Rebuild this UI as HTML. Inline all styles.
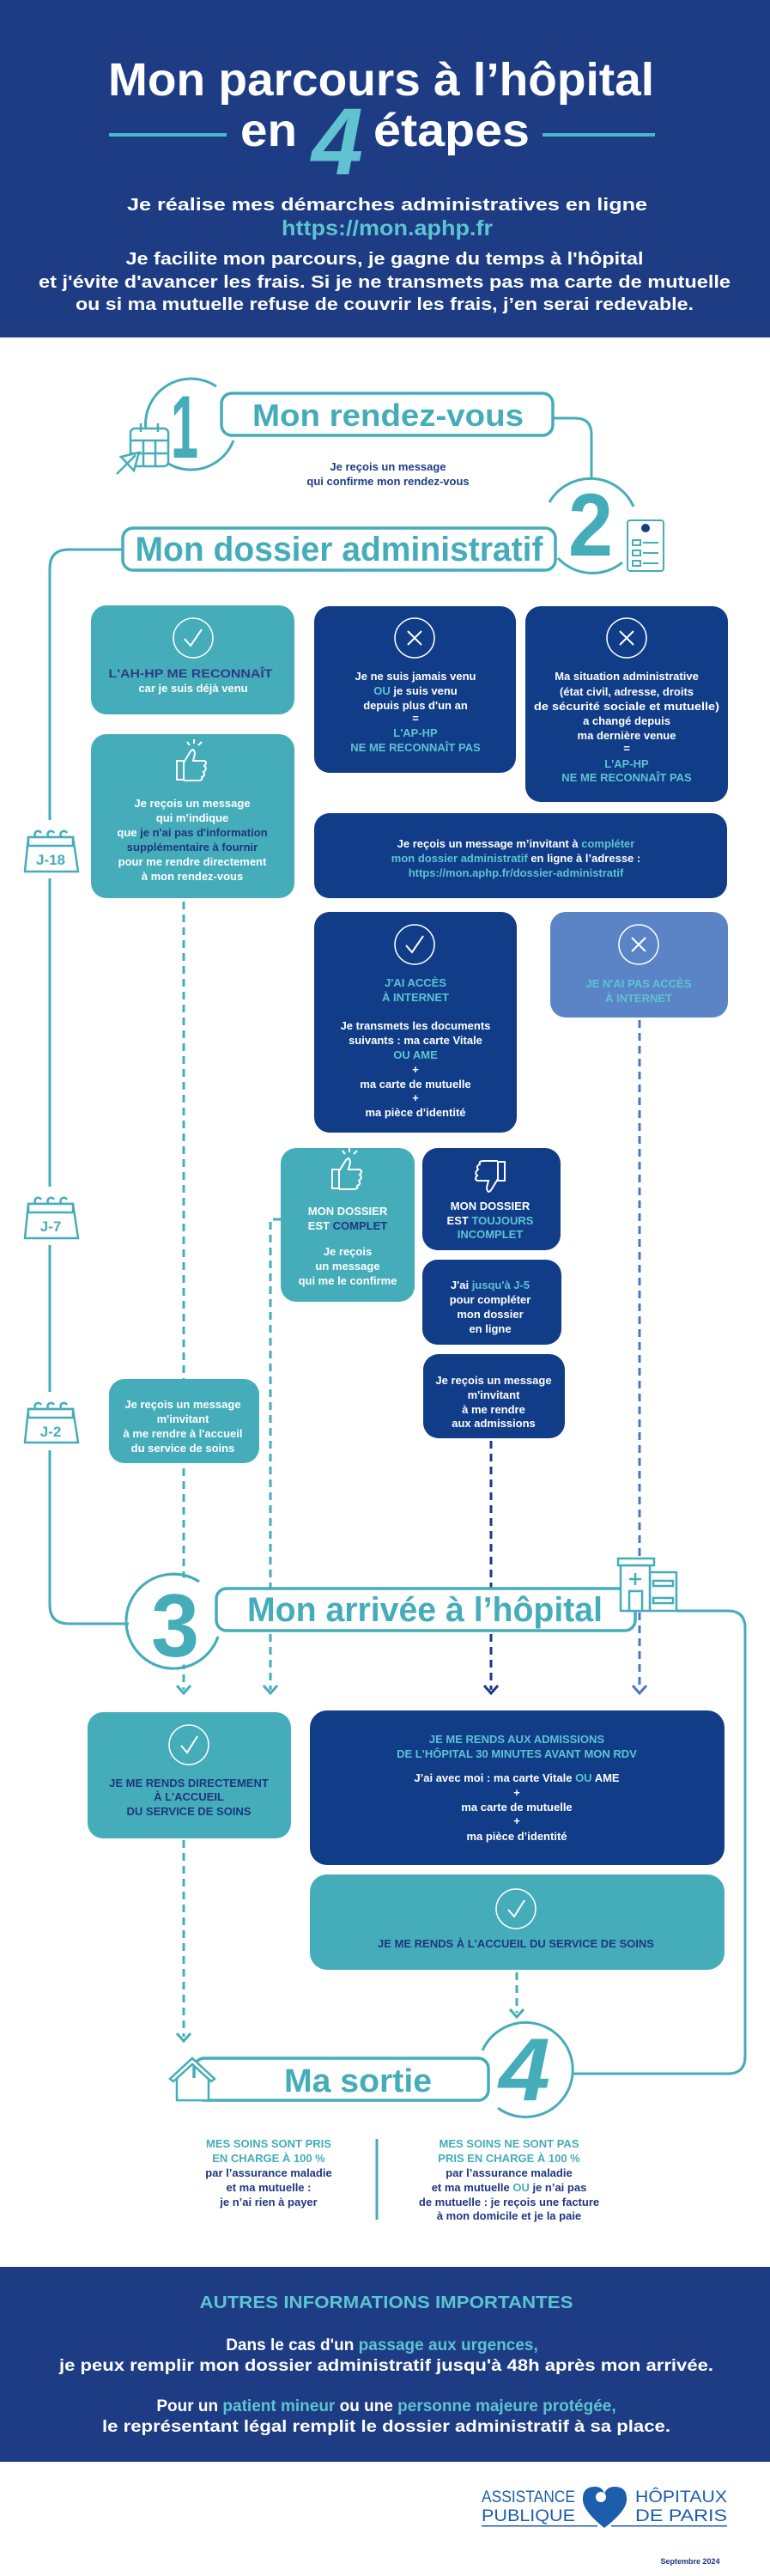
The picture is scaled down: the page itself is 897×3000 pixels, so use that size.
<!DOCTYPE html>
<html><head><meta charset="utf-8"><style>
html,body{margin:0;padding:0;background:#fff}
svg{display:block}
text{font-family:"Liberation Sans",sans-serif;font-weight:bold}
.w{fill:#fff}.t{fill:#5cc4d1}.n{fill:#2e3a85}.tl{fill:#45adb9}
.s13{font-size:13px}
</style></head><body>
<svg width="897" height="3000" viewBox="0 0 897 3000" xmlns="http://www.w3.org/2000/svg">
<rect x="0" y="0" width="897" height="393" fill="#1e3c84"/>
<text x="444" y="111" text-anchor="middle" font-size="54" class="w" textLength="636" lengthAdjust="spacingAndGlyphs">Mon parcours à l’hôpital</text>
<line x1="127" y1="157" x2="264" y2="157" stroke="#45b9c6" stroke-width="4"/>
<line x1="632" y1="157" x2="763" y2="157" stroke="#45b9c6" stroke-width="4"/>
<text x="280" y="170" font-size="54" class="w" textLength="66" lengthAdjust="spacingAndGlyphs">en</text>
<text x="435" y="170" font-size="54" class="w" textLength="182" lengthAdjust="spacingAndGlyphs">étapes</text>
<text x="393" y="203" text-anchor="middle" font-size="110" fill="#62c3d0" font-style="italic" textLength="60" lengthAdjust="spacingAndGlyphs">4</text>
<text x="451" y="245" text-anchor="middle" font-size="20" class="w" textLength="606" lengthAdjust="spacingAndGlyphs">Je réalise mes démarches administratives en ligne</text>
<text x="451" y="274" text-anchor="middle" font-size="25" fill="#5cc4d1" textLength="246" lengthAdjust="spacingAndGlyphs">https://mon.aphp.fr</text>
<text x="448" y="308" text-anchor="middle" font-size="20" class="w" textLength="603" lengthAdjust="spacingAndGlyphs">Je facilite mon parcours, je gagne du temps à l'hôpital</text>
<text x="448" y="335" text-anchor="middle" font-size="20" class="w" textLength="806" lengthAdjust="spacingAndGlyphs">et j'évite d'avancer les frais. Si je ne transmets pas ma carte de mutuelle</text>
<text x="448" y="361" text-anchor="middle" font-size="20" class="w" textLength="720" lengthAdjust="spacingAndGlyphs">ou si ma mutuelle refuse de couvrir les frais, j’en serai redevable.</text>

<g fill="none" stroke="#45adb9" stroke-width="3">
<!-- main left line -->
<path d="M143 640 H80 Q58 640 58 662 V1869 Q58 1891 80 1891 H150"/>
<!-- right connector to 2 -->
<path d="M644 487 H670 Q689 487 689 506 V558"/>
<!-- right connector 3 to 4 -->
<path d="M788 1876 H848 Q868 1876 868 1896 V2395 Q868 2415 848 2415 H666"/>
<!-- circles -->
<path d="M252 450 A53 53 0 1 0 272 513"/>
<path d="M640 585 A55 55 0 0 1 738 590"/>
<path d="M650 650 A55 55 0 0 0 725 655"/>
<path d="M232 1842 A55 55 0 1 0 254 1906"/>
<path d="M562 2388 A55 55 0 1 1 580 2455"/>
</g>
<!-- dashed lines -->
<g fill="none" stroke-width="3" stroke-dasharray="9 6">
<path d="M214 1050 V1968" stroke="#45adb9"/>
<path d="M327 1420 H315 V1968" stroke="#45adb9"/>
<path d="M572 1678 V1968" stroke="#1a3a8a"/>
<path d="M745 1188 V1968" stroke="#4a78c0"/>
<path d="M214 2143 V2372" stroke="#45adb9"/>
<path d="M602 2297 V2344" stroke="#45adb9"/>
</g>
<g fill="none" stroke-width="3">
<path d="M206 1963 L214 1972 L222 1963" stroke="#45adb9"/>
<path d="M307 1963 L315 1972 L323 1963" stroke="#45adb9"/>
<path d="M564 1963 L572 1972 L580 1963" stroke="#1a3a8a"/>
<path d="M737 1963 L745 1972 L753 1963" stroke="#4a78c0"/>
<path d="M206 2368 L214 2377 L222 2368" stroke="#45adb9"/>
<path d="M594 2340 L602 2349 L610 2340" stroke="#45adb9"/>
</g>

<!-- step 1 -->
<text x="215" y="533" text-anchor="middle" font-size="104" class="tl" textLength="32" lengthAdjust="spacingAndGlyphs">1</text>
<g fill="#fff" stroke="#45adb9" stroke-width="2.5">
<rect x="152" y="499" width="44" height="44" rx="5"/>
<path d="M152 513 H196 M152 528 H196 M167 513 V543 M181 513 V543 M164 493 V503 M184 493 V503" fill="none"/>
<path d="M136 552 L158 530 M141 532 L162 527 L156 548 Z" />
</g>
<rect x="258" y="458" width="386" height="49" rx="12" fill="#fff" stroke="#45adb9" stroke-width="3.5"/>
<text x="452" y="496" text-anchor="middle" font-size="36" class="tl" textLength="316" lengthAdjust="spacingAndGlyphs">Mon rendez-vous</text>
<text x="452" y="548" text-anchor="middle" font-size="13" fill="#1e3c84">Je reçois un message</text>
<text x="452" y="565" text-anchor="middle" font-size="13" fill="#1e3c84">qui confirme mon rendez-vous</text>

<!-- step 2 -->
<text x="688" y="647" text-anchor="middle" font-size="104" class="tl" textLength="52" lengthAdjust="spacingAndGlyphs">2</text>
<rect x="731" y="606" width="42" height="59" rx="3" fill="#fff" stroke="#45adb9" stroke-width="2"/>
<circle cx="752" cy="615" r="5" fill="#1a3a8a"/>
<g fill="none" stroke="#45adb9" stroke-width="2"><rect x="737" y="629" width="9" height="6"/><rect x="737" y="641" width="9" height="6"/><rect x="737" y="653" width="9" height="6"/><path d="M749 632 H767 M749 644 H767 M749 656 H767"/></g>
<rect x="143" y="615" width="504" height="49" rx="12" fill="#fff" stroke="#45adb9" stroke-width="3.5"/>
<text x="395" y="653" text-anchor="middle" font-size="40" class="tl" textLength="475" lengthAdjust="spacingAndGlyphs">Mon dossier administratif</text>

<!-- calendars -->
<g id="cal">
<rect x="26" y="955" width="68" height="68" fill="#fff"/>
</g>
<rect x="26" y="1382" width="68" height="68" fill="#fff"/>
<rect x="26" y="1621" width="68" height="68" fill="#fff"/>
<g fill="#fff" stroke="#45adb9" stroke-width="2.5">
<path d="M33 975 H85 L91 1015 H29 Z"/><path d="M33 975 H85 V985 H33 Z"/>
<path d="M33 1402 H85 L91 1442 H29 Z"/><path d="M33 1402 H85 V1412 H33 Z"/>
<path d="M33 1641 H85 L91 1680 H29 Z"/><path d="M33 1641 H85 V1651 H33 Z"/>
<path d="M42 975 a4 4 0 1 1 6 -5 M57 975 a4 4 0 1 1 6 -5 M72 975 a4 4 0 1 1 6 -5" fill="none"/>
<path d="M42 1402 a4 4 0 1 1 6 -5 M57 1402 a4 4 0 1 1 6 -5 M72 1402 a4 4 0 1 1 6 -5" fill="none"/>
<path d="M42 1641 a4 4 0 1 1 6 -5 M57 1641 a4 4 0 1 1 6 -5 M72 1641 a4 4 0 1 1 6 -5" fill="none"/>
</g>
<text x="59" y="1007" text-anchor="middle" font-size="17" class="tl">J-18</text>
<text x="59" y="1434" text-anchor="middle" font-size="17" class="tl">J-7</text>
<text x="59" y="1673" text-anchor="middle" font-size="17" class="tl">J-2</text>

<!-- boxes -->
<rect x="106" y="705" width="237" height="127" rx="18" fill="#45adb9"/>
<circle cx="225" cy="743" r="23" fill="none" stroke="#fff" stroke-width="1.5"/><path d="M215 744 L222 752 L235 733" fill="none" stroke="#fff" stroke-width="2"/>
<text x="222" y="789" text-anchor="middle" font-size="14" class="n" textLength="191" lengthAdjust="spacingAndGlyphs">L'AH-HP ME RECONNAÎT</text>
<text x="225" y="806" text-anchor="middle" class="s13 w">car je suis déjà venu</text>

<rect x="366" y="706" width="235" height="194" rx="18" fill="#113c88"/>
<circle cx="483" cy="743" r="23" fill="none" stroke="#fff" stroke-width="1.5"/><path d="M475 735 L491 751 M491 735 L475 751" stroke="#fff" stroke-width="2"/>
<g text-anchor="middle" class="s13">
<text x="484" y="792" class="w">Je ne suis jamais venu</text>
<text x="484" y="809" class="w"><tspan class="t">OU</tspan> je suis venu</text>
<text x="484" y="826" class="w">depuis plus d'un an</text>
<text x="484" y="841" class="w">=</text>
<text x="484" y="858" class="t">L'AP-HP</text>
<text x="484" y="875" class="t">NE ME RECONNAÎT PAS</text>
</g>

<rect x="612" y="706" width="236" height="228" rx="18" fill="#113c88"/>
<circle cx="730" cy="743" r="23" fill="none" stroke="#fff" stroke-width="1.5"/><path d="M722 735 L738 751 M738 735 L722 751" stroke="#fff" stroke-width="2"/>
<g text-anchor="middle" class="s13">
<text x="730" y="792" class="w">Ma situation administrative</text>
<text x="730" y="810" class="w">(état civil, adresse, droits</text>
<text x="730" y="827" class="w" textLength="216" lengthAdjust="spacingAndGlyphs">de sécurité sociale et mutuelle)</text>
<text x="730" y="844" class="w">a changé depuis</text>
<text x="730" y="861" class="w">ma dernière venue</text>
<text x="730" y="876" class="w">=</text>
<text x="730" y="894" class="t">L'AP-HP</text>
<text x="730" y="910" class="t">NE ME RECONNAÎT PAS</text>
</g>

<rect x="106" y="855" width="237" height="191" rx="18" fill="#45adb9"/>
<g fill="none" stroke="#fff" stroke-width="2"><rect x="206" y="886" width="8" height="22"/><path d="M214 888 L222 875 Q226 870 227 878 L225 886 H238 Q242 888 238 892 Q242 895 237 899 Q240 903 235 905 Q237 909 230 909 H214"/><path d="M226 866 V861 M231 868 L235 864 M221 868 L218 864"/></g>
<g text-anchor="middle" class="s13">
<text x="224" y="940" class="w">Je reçois un message</text>
<text x="224" y="957" class="w">qui m’indique</text>
<text x="224" y="974" class="w">que <tspan fill="#1f3580">je n'ai pas d'information</tspan></text>
<text x="224" y="991" fill="#1f3580">supplémentaire à fournir</text>
<text x="224" y="1008" class="w">pour me rendre directement</text>
<text x="224" y="1025" class="w">à mon rendez-vous</text>
</g>

<rect x="366" y="947" width="481" height="99" rx="18" fill="#113c88"/>
<g text-anchor="middle" class="s13">
<text x="601" y="987" class="w">Je reçois un message m’invitant à <tspan class="t">compléter</tspan></text>
<text x="601" y="1004" class="t">mon dossier administratif <tspan class="w">en ligne à l’adresse :</tspan></text>
<text x="601" y="1021" class="t">https://mon.aphp.fr/dossier-administratif</text>
</g>

<rect x="366" y="1062" width="236" height="257" rx="18" fill="#113c88"/>
<circle cx="483" cy="1100" r="23" fill="none" stroke="#fff" stroke-width="1.5"/><path d="M473 1101 L480 1109 L493 1090" fill="none" stroke="#fff" stroke-width="2"/>
<g text-anchor="middle" class="s13">
<text x="484" y="1149" class="t">J'AI ACCÈS</text>
<text x="484" y="1166" class="t">À INTERNET</text>
<text x="484" y="1199" class="w">Je transmets les documents</text>
<text x="484" y="1216" class="w">suivants : ma carte Vitale</text>
<text x="484" y="1233" class="t">OU AME</text>
<text x="484" y="1250" class="w">+</text>
<text x="484" y="1267" class="w">ma carte de mutuelle</text>
<text x="484" y="1283" class="w">+</text>
<text x="484" y="1300" class="w">ma pièce d’identité</text>
</g>

<rect x="641" y="1062" width="207" height="123" rx="18" fill="#5b84c6"/>
<circle cx="744" cy="1100" r="23" fill="none" stroke="#fff" stroke-width="1.5"/><path d="M736 1092 L752 1108 M752 1092 L736 1108" stroke="#fff" stroke-width="2"/>
<text x="744" y="1150" text-anchor="middle" class="s13 t">JE N'AI PAS ACCÈS</text>
<text x="744" y="1167" text-anchor="middle" class="s13 t">À INTERNET</text>

<rect x="327" y="1337" width="156" height="179" rx="18" fill="#45adb9"/>
<g fill="none" stroke="#fff" stroke-width="2"><rect x="387" y="1362" width="8" height="22"/><path d="M395 1364 L403 1351 Q407 1346 408 1354 L406 1362 H419 Q423 1364 419 1368 Q423 1371 418 1375 Q421 1379 416 1381 Q418 1385 411 1385 H395"/><path d="M407 1342 V1337 M412 1344 L416 1340 M402 1344 L399 1340"/></g>
<g text-anchor="middle" class="s13">
<text x="405" y="1415" class="w">MON DOSSIER</text>
<text x="405" y="1432" class="w">EST <tspan fill="#1f3580">COMPLET</tspan></text>
<text x="405" y="1462" class="w">Je reçois</text>
<text x="405" y="1479" class="w">un message</text>
<text x="405" y="1496" class="w">qui me le confirme</text>
</g>

<rect x="492" y="1337" width="161" height="119" rx="18" fill="#113c88"/>
<g fill="none" stroke="#fff" stroke-width="2"><rect x="580" y="1353" width="8" height="22"/><path d="M580 1373 L572 1386 Q568 1391 567 1383 L569 1375 H556 Q552 1373 556 1369 Q552 1366 557 1362 Q554 1358 559 1356 Q557 1352 564 1352 H580"/></g>
<g text-anchor="middle" class="s13">
<text x="571" y="1409" class="w">MON DOSSIER</text>
<text x="571" y="1426" class="w">EST <tspan class="t">TOUJOURS</tspan></text>
<text x="571" y="1442" class="t">INCOMPLET</text>
</g>

<rect x="492" y="1467" width="162" height="99" rx="18" fill="#113c88"/>
<g text-anchor="middle" class="s13">
<text x="571" y="1501" class="w">J'ai <tspan class="t">jusqu'à J-5</tspan></text>
<text x="571" y="1518" class="w">pour compléter</text>
<text x="571" y="1535" class="w">mon dossier</text>
<text x="571" y="1552" class="w">en ligne</text>
</g>

<rect x="493" y="1577" width="165" height="98" rx="18" fill="#113c88"/>
<g text-anchor="middle" class="s13">
<text x="575" y="1612" class="w">Je reçois un message</text>
<text x="575" y="1629" class="w">m'invitant</text>
<text x="575" y="1646" class="w">à me rendre</text>
<text x="575" y="1662" class="w">aux admissions</text>
</g>

<rect x="127" y="1606" width="175" height="98" rx="18" fill="#45adb9"/>
<g text-anchor="middle" class="s13">
<text x="213" y="1640" class="w">Je reçois un message</text>
<text x="213" y="1657" class="w">m'invitant</text>
<text x="213" y="1674" class="w">à me rendre à l'accueil</text>
<text x="213" y="1691" class="w">du service de soins</text>
</g>

<!-- step 3 -->
<circle cx="202" cy="1888" r="52" fill="#fff"/>
<path d="M232 1842 A55 55 0 1 0 254 1906" fill="none" stroke="#45adb9" stroke-width="3"/>
<text x="204" y="1929" text-anchor="middle" font-size="104" class="tl" textLength="56" lengthAdjust="spacingAndGlyphs">3</text>
<rect x="252" y="1850" width="488" height="49" rx="12" fill="#fff" stroke="#45adb9" stroke-width="3.5"/>
<text x="495" y="1888" text-anchor="middle" font-size="40" class="tl" textLength="414" lengthAdjust="spacingAndGlyphs">Mon arrivée à l’hôpital</text>
<g fill="#fff" stroke="#45adb9" stroke-width="2.5">
<rect x="757" y="1831" width="31" height="45"/>
<rect x="723" y="1823" width="34" height="53"/>
<rect x="720" y="1815" width="42" height="8"/>
<rect x="733" y="1853" width="15" height="23"/>
<path d="M740 1832 V1846 M733 1839 H747" fill="none"/>
<path d="M761 1841 H784 V1847 H761 Z M761 1861 H784 V1867 H761 Z"/>
</g>

<!-- step 3 results -->
<rect x="102" y="1994" width="237" height="147" rx="18" fill="#45adb9"/>
<circle cx="220" cy="2032" r="23" fill="none" stroke="#fff" stroke-width="1.5"/><path d="M211 2033 L218 2041 L230 2022" fill="none" stroke="#fff" stroke-width="2"/>
<g text-anchor="middle" font-size="13" fill="#1f3580">
<text x="220" y="2081">JE ME RENDS DIRECTEMENT</text>
<text x="220" y="2097">À L'ACCUEIL</text>
<text x="220" y="2114">DU SERVICE DE SOINS</text>
</g>
<rect x="361" y="1992" width="483" height="180" rx="20" fill="#113c88"/>
<g text-anchor="middle" class="s13">
<text x="602" y="2030" class="t">JE ME RENDS AUX ADMISSIONS</text>
<text x="602" y="2047" class="t">DE L'HÔPITAL 30 MINUTES AVANT MON RDV</text>
<text x="602" y="2075" class="w">J’ai avec moi : ma carte Vitale <tspan class="t">OU</tspan> AME</text>
<text x="602" y="2092" class="w">+</text>
<text x="602" y="2109" class="w">ma carte de mutuelle</text>
<text x="602" y="2125" class="w">+</text>
<text x="602" y="2143" class="w">ma pièce d’identité</text>
</g>
<rect x="361" y="2183" width="483" height="111" rx="20" fill="#45adb9"/>
<circle cx="601" cy="2223" r="23" fill="none" stroke="#fff" stroke-width="1.5"/><path d="M592 2224 L599 2232 L611 2213" fill="none" stroke="#fff" stroke-width="2"/>
<text x="601" y="2268" text-anchor="middle" font-size="13" fill="#1f3580">JE ME RENDS À L'ACCUEIL DU SERVICE DE SOINS</text>

<!-- step 4 -->
<text x="611" y="2446" text-anchor="middle" font-size="104" class="tl" font-style="italic" textLength="60" lengthAdjust="spacingAndGlyphs">4</text>
<rect x="226" y="2397" width="343" height="49" rx="12" fill="#fff" stroke="#45adb9" stroke-width="3.5"/>
<text x="417" y="2436" text-anchor="middle" font-size="38" class="tl" textLength="172" lengthAdjust="spacingAndGlyphs">Ma sortie</text>
<g fill="#fff" stroke="#45adb9" stroke-width="2.5">
<path d="M206 2420 V2446 H243 V2420"/>
<path d="M198 2421 L224 2397 L250 2421 L246 2424 L224 2404 L202 2424 Z"/>
</g>

<g text-anchor="middle" font-size="13">
<text x="313" y="2501" fill="#45adb9">MES SOINS SONT PRIS</text>
<text x="313" y="2518" fill="#45adb9">EN CHARGE À 100 %</text>
<text x="313" y="2535" fill="#1f3580">par l’assurance maladie</text>
<text x="313" y="2552" fill="#1f3580">et ma mutuelle :</text>
<text x="313" y="2569" fill="#1f3580">je n’ai rien à payer</text>
<text x="593" y="2501" fill="#45adb9">MES SOINS NE SONT PAS</text>
<text x="593" y="2518" fill="#45adb9">PRIS EN CHARGE À 100 %</text>
<text x="593" y="2535" fill="#1f3580">par l’assurance maladie</text>
<text x="593" y="2552" fill="#1f3580">et ma mutuelle <tspan fill="#45adb9">OU</tspan> je n’ai pas</text>
<text x="593" y="2569" fill="#1f3580">de mutuelle :  je reçois une facture</text>
<text x="593" y="2585" fill="#1f3580">à mon domicile et je la paie</text>
</g>
<line x1="439" y1="2491" x2="439" y2="2585" stroke="#45adb9" stroke-width="3"/>

<!-- bottom band -->
<rect x="0" y="2640" width="897" height="227" fill="#1e3c84"/>
<text x="450" y="2688" text-anchor="middle" font-size="20" fill="#5cc4d1" textLength="435" lengthAdjust="spacingAndGlyphs">AUTRES INFORMATIONS IMPORTANTES</text>
<g text-anchor="middle" font-size="19" class="w">
<text x="theme" y="0"></text>
<text x="445" y="2737">Dans le cas d'un <tspan class="t">passage aux urgences,</tspan></text>
<text x="450" y="2761" textLength="762" lengthAdjust="spacingAndGlyphs">je peux remplir mon dossier administratif jusqu'à 48h après mon arrivée.</text>
<text x="450" y="2808">Pour un <tspan class="t">patient mineur</tspan> ou une <tspan class="t">personne majeure protégée,</tspan></text>
<text x="450" y="2832" textLength="662" lengthAdjust="spacingAndGlyphs">le représentant légal remplit le dossier administratif à sa place.</text>
</g>

<!-- logo -->
<g fill="#1c5eac">
<text x="561" y="2914" font-size="19" font-weight="normal" textLength="109" lengthAdjust="spacingAndGlyphs" style="font-weight:normal">ASSISTANCE</text>
<text x="561" y="2936" font-size="19" textLength="109" lengthAdjust="spacingAndGlyphs" style="font-weight:normal">PUBLIQUE</text>
<text x="740" y="2914" font-size="19" textLength="107" lengthAdjust="spacingAndGlyphs" style="font-weight:normal">HÔPITAUX</text>
<text x="740" y="2936" font-size="19" textLength="107" lengthAdjust="spacingAndGlyphs" style="font-weight:normal">DE  PARIS</text>
<path d="M704 2944 Q680 2925 679 2912 Q678 2896 693 2896 Q702 2896 704 2904 Q707 2896 716 2896 Q731 2896 730 2912 Q729 2925 704 2944 Z"/>
<rect x="561" y="2941" width="135" height="1.5"/><rect x="712" y="2941" width="135" height="1.5"/>
</g>
<circle cx="700" cy="2908" r="6" fill="#fff"/>
<text x="804" y="2986" text-anchor="middle" font-size="9" fill="#1f3580">Septembre 2024</text>
</svg>
</body></html>
